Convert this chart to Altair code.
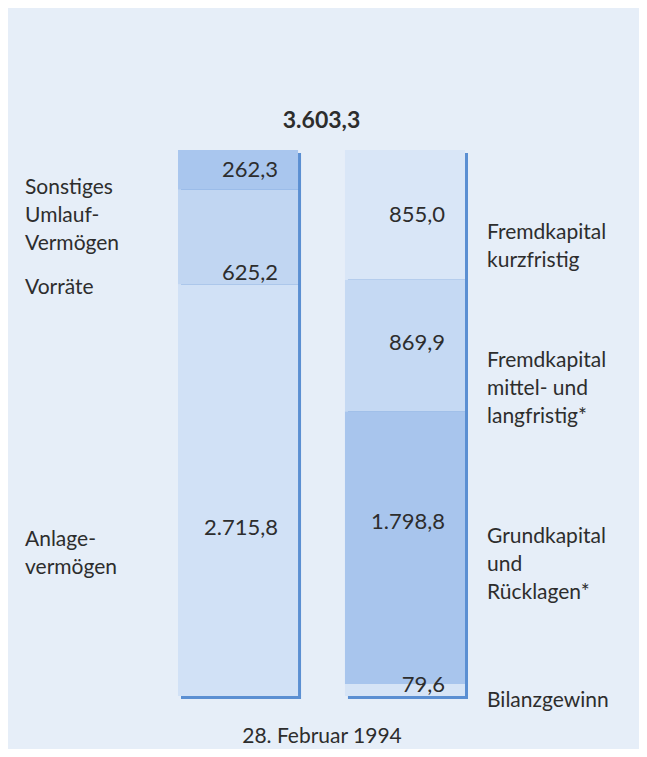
import altair as alt
import pandas as pd

# ---------------- data ----------------
sides = ["Aktiva", "Passiva"]

aktiva_items = ["Anlagevermögen", "Vorräte", "Sonstiges Umlaufvermögen"]
aktiva_values = [2715.8, 625.2, 262.3]
aktiva_labels = ["Anlage-\nvermögen", "Vorräte", "Sonstiges\nUmlauf-\nVermögen"]

passiva_items = ["Bilanzgewinn", "Grundkapital und Rücklagen",
                 "Fremdkapital mittel- und langfristig", "Fremdkapital kurzfristig"]
passiva_values = [79.6, 1798.8, 869.9, 855.0]
passiva_labels = ["Bilanzgewinn", "Grundkapital\nund\nRücklagen*",
                  "Fremdkapital\nmittel- und\nlangfristig*", "Fremdkapital\nkurzfristig"]

total_label = "3.603,3"
date_label = "28. Februar 1994"

# ---------------- styling / layout ----------------
colors = {
    "Anlagevermögen": "#d1e1f6",
    "Vorräte": "#c1d6f2",
    "Sonstiges Umlaufvermögen": "#a9c6ee",
    "Bilanzgewinn": "#d6e4f6",
    "Grundkapital und Rücklagen": "#a8c5ed",
    "Fremdkapital mittel- und langfristig": "#c5d9f3",
    "Fremdkapital kurzfristig": "#d9e6f7",
}
# label offsets (px) below the top of each segment: value label centre, category label top
value_offsets = {"Aktiva": [244, 83, 20], "Passiva": [1, 111, 63.5, 65]}
cat_offsets = {"Aktiva": [245, 87, 27], "Passiva": [6, 115, 70, 72]}

FONT = "Lato"
TXT = "#2d2d2d"
BG = "#e6eef8"
SHADOW = "#5b8fd2"
W, H = 287, 546
PAD_L, PAD_T = 170, 142
CANVAS_W, CANVAS_H = 631, 741


def de_fmt(v):
    s = f"{v:,.1f}"
    return s.replace(",", "X").replace(".", ",").replace("X", ".")


rows = []
for side, items, vals, labs in [("Aktiva", aktiva_items, aktiva_values, aktiva_labels),
                                ("Passiva", passiva_items, passiva_values, passiva_labels)]:
    start = 0.0
    for i, (it, v, lb) in enumerate(zip(items, vals, labs)):
        end = start + v
        rows.append(dict(side=side, item=it, value=v, start=start, end=end,
                         vtext=de_fmt(v), ctext=lb, order=i))
        start = end
df = pd.DataFrame(rows)
total_max = max(sum(aktiva_values), sum(passiva_values))
unit_per_px = total_max / H
df["vy"] = [r.end - value_offsets[r.side][r.order] * unit_per_px for r in df.itertuples()]
df["cy"] = [r.end - cat_offsets[r.side][r.order] * unit_per_px for r in df.itertuples()]

totals = pd.DataFrame({"side": sides, "total": [sum(aktiva_values), sum(passiva_values)]})

x_scale = alt.Scale(domain=sides, paddingInner=0.281, paddingOuter=0)
y_scale = alt.Scale(domain=[0, total_max], nice=False, zero=True)
x_axis = alt.Axis(title=date_label, labels=False, ticks=False, domain=False, grid=False,
                  titleFont=FONT, titleFontSize=21, titleFontWeight="normal",
                  titleColor=TXT, titlePadding=29)


def xenc(band=None):
    if band is None:
        return alt.X("side:N", scale=x_scale, axis=x_axis, sort=sides)
    return alt.X("side:N", scale=x_scale, axis=x_axis, sort=sides, bandPosition=band)


shadow = alt.Chart(totals).mark_bar(xOffset=3, yOffset=3, color=SHADOW).encode(
    x=xenc(),
    y=alt.Y("total:Q", scale=y_scale, axis=None),
)

bars = alt.Chart(df).mark_bar().encode(
    x=xenc(),
    y=alt.Y("start:Q", scale=y_scale, axis=None),
    y2="end:Q",
    color=alt.Color("item:N", scale=alt.Scale(domain=list(colors.keys()),
                                              range=list(colors.values())), legend=None),
)

value_text = alt.Chart(df).mark_text(align="right", baseline="middle", dx=-20,
                                     font=FONT, fontSize=22, color=TXT).encode(
    x=xenc(1),
    y=alt.Y("vy:Q", scale=y_scale, axis=None),
    text="vtext:N",
)

left_text = alt.Chart(df[df.side == "Aktiva"]).mark_text(
    align="left", baseline="top", dx=-153, font=FONT, fontSize=21, color=TXT,
    lineBreak="\n", lineHeight=28).encode(
    x=xenc(0),
    y=alt.Y("cy:Q", scale=y_scale, axis=None),
    text="ctext:N",
)

right_text = alt.Chart(df[df.side == "Passiva"]).mark_text(
    align="left", baseline="top", dx=22, font=FONT, fontSize=21, color=TXT,
    lineBreak="\n", lineHeight=28).encode(
    x=xenc(1),
    y=alt.Y("cy:Q", scale=y_scale, axis=None),
    text="ctext:N",
)

chart = alt.layer(shadow, bars, value_text, left_text, right_text).properties(
    width=W, height=H,
    autosize=alt.AutoSizeParams(type="none"),
    padding={"left": PAD_L, "top": PAD_T, "right": CANVAS_W - PAD_L - W,
             "bottom": CANVAS_H - PAD_T - H},
    background=BG,
    title=alt.TitleParams(total_label, anchor="middle", fontSize=23, fontWeight="bold",
                          font=FONT, color=TXT, offset=17),
).configure_view(stroke=None)

chart.save("out.html", embed_options={"renderer": "svg", "actions": False})
